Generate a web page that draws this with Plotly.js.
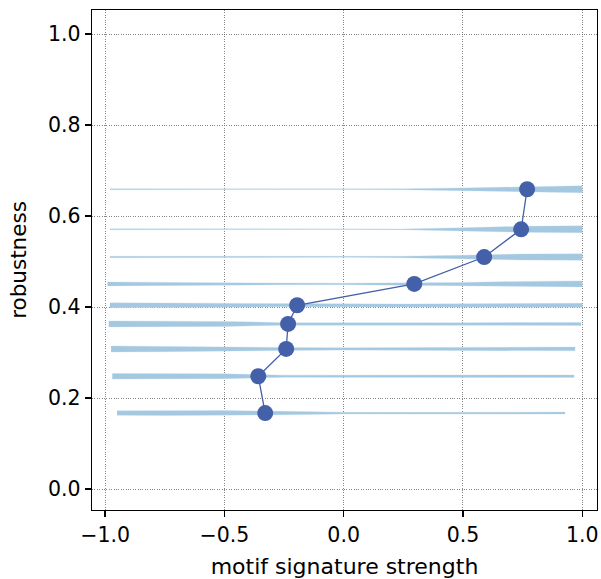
<!DOCTYPE html>
<html>
<head>
<meta charset="utf-8">
<script src="https://cdn.plot.ly/plotly-3.0.1.min.js"></script>
<style>html,body{margin:0;padding:0;background:#fff;}#chart{width:601px;height:579px;}</style>
</head>
<body>
<div id="chart"></div>
<script>
// Mean motif signature strength per robustness level
var robustness = [0.659, 0.571, 0.510, 0.451, 0.404, 0.363, 0.308, 0.248, 0.167];
var strength   = [0.769, 0.744, 0.589, 0.296, -0.195, -0.233, -0.241, -0.358, -0.329];

// Distribution extent per row
var distStart = [-0.98, -0.98, -0.98, -0.99, -0.98, -0.985, -0.975, -0.97, -0.95];
var distEnd   = [1.0, 1.0, 1.0, 1.0, 1.0, 0.995, 0.97, 0.966, 0.928];
// Interior sample positions of the density profile
var gridX = [-0.75, -0.5, -0.25, 0, 0.25, 0.5, 0.75];
// Relative density at [start, gridX..., end] for each row
var density = [
  [1.0, 1.0, 0.8, 0.4, 0.3, 0.9, 2.5, 5.0, 7.0],
  [1.0, 0.9, 0.7, 0.4, 0.3, 0.7, 3.0, 6.0, 7.0],
  [1.5, 1.4, 1.0, 0.6, 0.5, 1.5, 3.5, 6.0, 6.5],
  [4.0, 3.0, 2.0, 1.6, 1.5, 1.6, 3.0, 5.0, 6.0],
  [5.0, 4.5, 4.0, 3.0, 2.5, 2.5, 3.0, 3.5, 4.0],
  [6.0, 5.5, 5.0, 2.5, 2.0, 2.0, 2.2, 2.8, 3.0],
  [6.0, 5.5, 4.8, 3.0, 2.3, 2.4, 3.0, 3.4, 3.8],
  [5.5, 5.5, 4.8, 2.2, 1.8, 2.0, 2.4, 2.5, 2.5],
  [4.5, 5.0, 5.0, 3.5, 1.7, 1.5, 1.5, 1.7, 2.0]
];

var densScale = 1 / 910; // density unit -> half-width in robustness units

var traces = [];
for (var i = 0; i < robustness.length; i++) {
  var xs = [distStart[i]].concat(gridX.filter(function (g) { return g > distStart[i] && g < distEnd[i]; })).concat([distEnd[i]]);
  var ws = density[i].slice(0, xs.length - 1).concat([density[i][density[i].length - 1]]);
  var px = [], py = [];
  for (var k = 0; k < xs.length; k++) { px.push(xs[k]); py.push(robustness[i] + ws[k] * densScale); }
  for (var k = xs.length - 1; k >= 0; k--) { px.push(xs[k]); py.push(robustness[i] - ws[k] * densScale); }
  traces.push({
    x: px, y: py, type: 'scatter', mode: 'lines', fill: 'toself',
    fillcolor: '#a5c8e1', line: {width: 0.3, color: '#b9d5ea'},
    hoverinfo: 'skip', showlegend: false
  });
}
traces.push({
  x: strength, y: robustness, type: 'scatter', mode: 'lines+markers',
  line: {color: '#4460a8', width: 1.3},
  marker: {color: '#4460a8', size: 16},
  showlegend: false
});

var axisCommon = {
  showline: true, linecolor: '#000', linewidth: 1.4, mirror: true,
  ticks: 'outside', ticklen: 6, tickwidth: 1.4, tickcolor: '#000',
  showgrid: true, gridcolor: '#666', griddash: '1px,1.4px', gridwidth: 0.8,
  zeroline: false, tickfont: {size: 20.5, color: '#000'}
};

var layout = {
  width: 601, height: 579,
  margin: {l: 92, r: 4, t: 10, b: 69},
  paper_bgcolor: '#fff', plot_bgcolor: '#fff',
  font: {family: 'DejaVu Sans', color: '#000'},
  xaxis: Object.assign({}, axisCommon, {
    range: [-1.055, 1.062], tickvals: [-1, -0.5, 0, 0.5, 1],
    ticktext: ['\u22121.0', '\u22120.5', '0.0', '0.5', '1.0'],
    title: {text: 'motif signature strength', font: {size: 22}, standoff: 12}
  }),
  yaxis: Object.assign({}, axisCommon, {
    range: [-0.046, 1.053], tickvals: [0, 0.2, 0.4, 0.6, 0.8, 1.0],
    ticktext: ['0.0', '0.2', '0.4', '0.6', '0.8', '1.0'],
    title: {text: 'robustness', font: {size: 21.5}, standoff: 15}
  })
};

Plotly.newPlot('chart', traces, layout, {displayModeBar: false, staticPlot: true});
</script>
</body>
</html>
